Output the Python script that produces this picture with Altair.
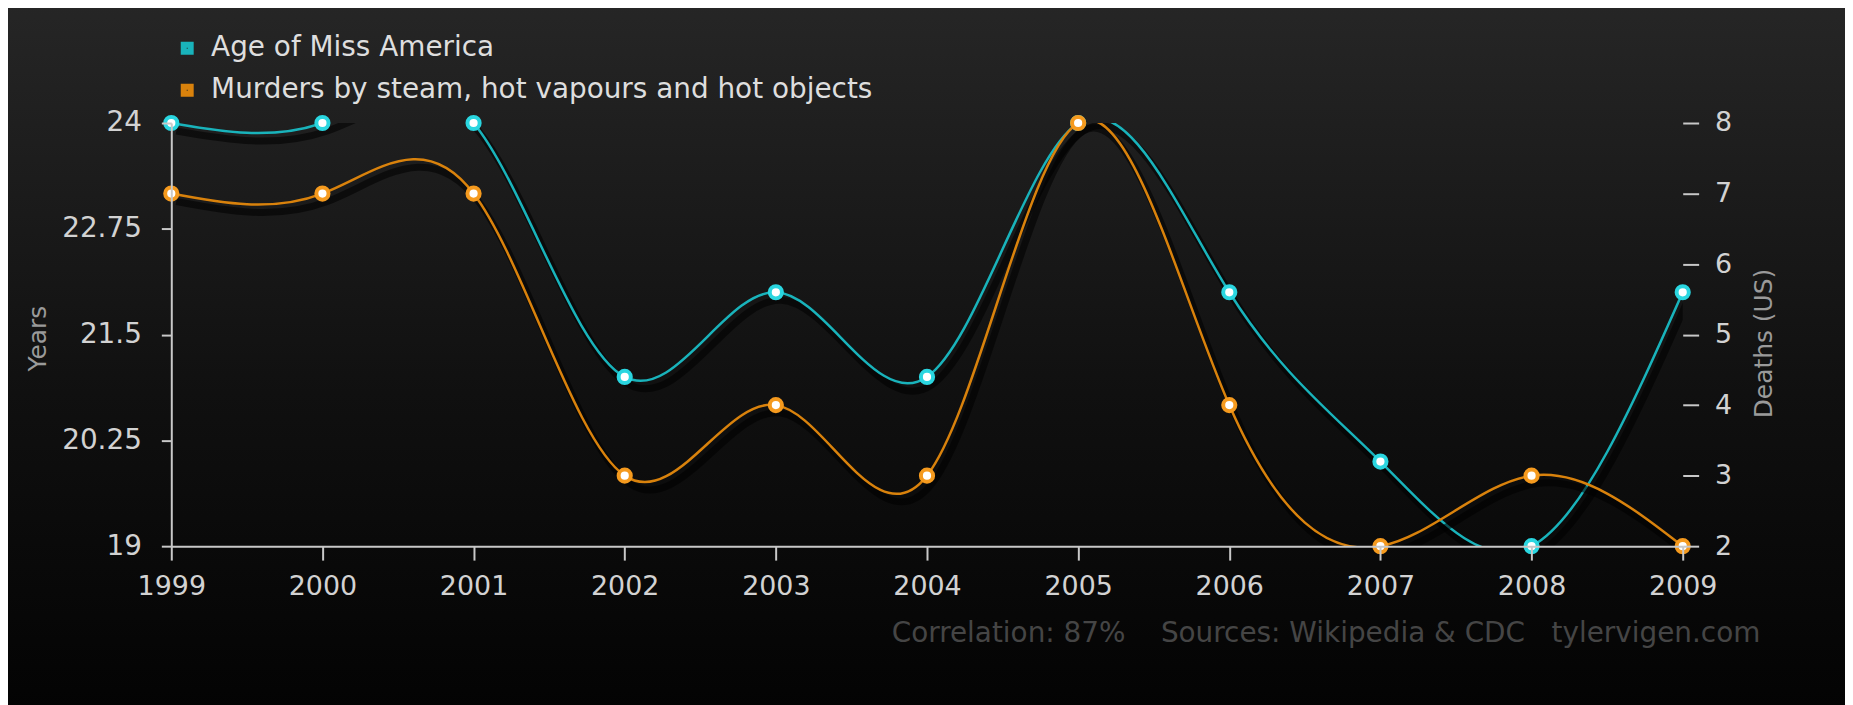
import altair as alt
import pandas as pd

years = [1999, 2000, 2001, 2002, 2003, 2004, 2005, 2006, 2007, 2008, 2009]
age_miss_america = [24, 24, 24, 21, 22, 21, 24, 22, 20, 19, 22]
steam_murders = [7, 7, 7, 3, 4, 3, 8, 4, 2, 3, 2]
series_names = ["Age of Miss America", "Murders by steam, hot vapours and hot objects"]
left_ticks = [19, 20.25, 21.5, 22.75, 24]
right_ticks = [2, 3, 4, 5, 6, 7, 8]
footer = "Correlation: 87%\u00a0\u00a0\u00a0\u00a0Sources: Wikipedia & CDC\u00a0\u00a0\u00a0tylervigen.com"

TEAL = "#19b3bb"
ORANGE = "#d9820c"
FONT = "DejaVu Sans"
W, H = 1518, 425

df = pd.DataFrame({"year": years, "age": age_miss_america, "murders": steam_murders})

color_scale = alt.Scale(domain=series_names, range=[TEAL, ORANGE])
legend = alt.Legend(
    orient="none", legendX=2, legendY=-89, title=None, symbolType="square",
    symbolSize=49, symbolStrokeWidth=6, labelFontSize=28, labelColor="#dedede",
    labelFont=FONT, rowPadding=10, labelOffset=10, padding=0, labelLimit=900,
)

x_enc = alt.X(
    "year:Q",
    scale=alt.Scale(domain=[1999, 2009], nice=False, zero=False),
    axis=alt.Axis(values=years, labelExpr="'' + datum.value", title=None, tickSize=14,
                  labelPadding=14, domainColor="#c8c8c8", domainWidth=2,
                  tickColor="#c8c8c8", tickWidth=2, labelColor="#d2d2d2",
                  labelFontSize=27, grid=False, zindex=1, labelFlush=False),
)

left_scale = alt.Scale(domain=[19, 24], nice=False, zero=False)
right_scale = alt.Scale(domain=[2, 8], nice=False, zero=False)

left_axis = alt.Axis(values=left_ticks, labelExpr="'' + datum.value", title="Years",
                     tickSize=10, labelPadding=20,
                     domainColor="#c8c8c8", domainWidth=2, tickColor="#c8c8c8", tickWidth=2,
                     labelColor="#d2d2d2", labelFontSize=28, grid=False, zindex=1,
                     labelFlush=False, orient="left",
                     titleColor="#9a9a9a", titleFontSize=25, titleFontWeight="normal",
                     titleAngle=270, titleX=-134, titleY=216, titleAlign="center",
                     titleBaseline="middle")
right_axis = alt.Axis(values=right_ticks, labelExpr="'' + datum.value", orient="right",
                      title="Deaths (US)",
                      tickSize=16, labelPadding=16, domain=False, tickColor="#c8c8c8",
                      tickWidth=2, labelColor="#d2d2d2", labelFontSize=27, grid=False,
                      zindex=1, labelFlush=False,
                      titleColor="#9a9a9a", titleFontSize=25, titleFontWeight="normal",
                      titleAngle=270, titleX=81, titleY=221, titleAlign="center",
                      titleBaseline="middle")

base = alt.Chart(df).encode(x=x_enc)


def series_layers(field, name, scale, axis, point_stroke):
    y = alt.Y(f"{field}:Q", scale=scale, axis=axis)
    return alt.layer(
        base.mark_line(interpolate="natural", color="#000", strokeWidth=7, opacity=0.55,
                       xOffset=5, yOffset=8, clip=True)
            .encode(y=y),
        base.mark_line(interpolate="natural", strokeWidth=2.5, clip=True)
            .transform_calculate(series=f"'{name}'")
            .encode(y=y, color=alt.Color("series:N", scale=color_scale, legend=legend)),
        base.mark_point(filled=True, fill="white", stroke=point_stroke, strokeWidth=4,
                        size=150, opacity=1)
            .encode(y=y),
    )


teal = series_layers("age", series_names[0], left_scale, left_axis, "#2ad6e0")
orange = series_layers("murders", series_names[1], right_scale, right_axis, "#f59a1e")

bg = alt.Chart(alt.Data(values=[{}])).mark_rect(
    color=alt.Gradient(
        gradient="linear", x1=0, x2=0, y1=0, y2=1,
        stops=[alt.GradientStop(offset=0, color="#262626"),
               alt.GradientStop(offset=0.55, color="#101010"),
               alt.GradientStop(offset=1, color="#030303")],
    )
).encode(x=alt.value(-180), x2=alt.value(W + 180), y=alt.value(-125), y2=alt.value(H + 170))

foot = alt.Chart(alt.Data(values=[{}])).mark_text(
    text=footer, align="right", baseline="middle", font=FONT, fontSize=28, color="#454545"
).encode(x=alt.value(W + 78), y=alt.value(513))

chart = alt.layer(bg, teal, orange, foot).resolve_scale(y="independent").properties(
    width=W, height=H,
    padding={"left": 164, "top": 114, "right": 163, "bottom": 158},
    autosize=alt.AutoSizeParams(type="none"),
    background="#000",
).configure(font=FONT).configure_view(stroke=None).configure_axis(labelFont=FONT, titleFont=FONT)

chart.save("out.html", embed_options={"renderer": "svg", "actions": False})
